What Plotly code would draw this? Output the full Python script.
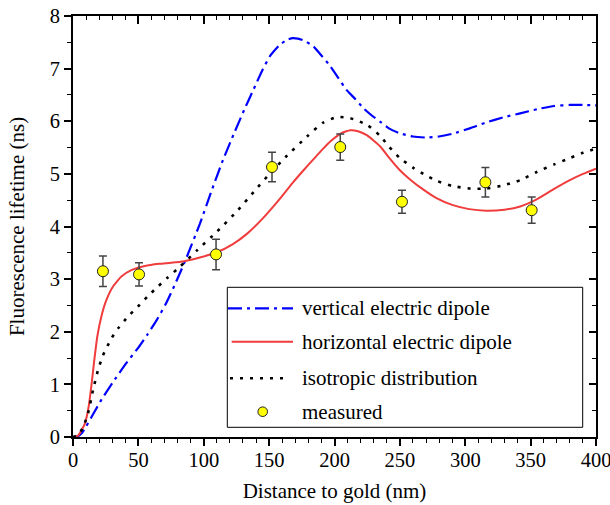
import plotly.graph_objects as go

# ---------------- data ----------------
blue_x = [0, 4, 7, 10, 16, 22, 30, 40, 50, 57, 64, 71, 78, 86, 97, 106, 114, 123, 131, 138, 145, 151,
          158, 164, 168, 172, 177, 184, 190, 197, 203, 209, 216, 222, 229, 235, 242, 250, 260, 270, 280,
          290, 304, 315, 330, 342, 355, 368, 380, 390, 400]
blue_y = [0, 0.02, 0.08, 0.20, 0.46, 0.72, 1.02, 1.38, 1.70, 1.95, 2.22, 2.53, 2.90, 3.36, 4.05, 4.68,
          5.22, 5.76, 6.22, 6.60, 6.98, 7.25, 7.45, 7.55, 7.58, 7.57, 7.53, 7.42, 7.25, 7.04, 6.82, 6.60,
          6.42, 6.25, 6.10, 5.99, 5.86, 5.77, 5.71, 5.69, 5.71, 5.76, 5.87, 5.97, 6.08, 6.15, 6.23, 6.29,
          6.31, 6.31, 6.30]

red_x = [0, 4, 9, 12, 14, 16, 18.6, 21.7, 25.5, 30.6, 37, 44.6, 55, 66, 75, 85, 97, 110, 122, 133, 145,
         158, 168, 176, 184, 191, 197, 205, 212, 218, 225, 235, 242, 250, 258, 268, 278, 290, 303,
         316, 330, 342, 355, 367, 380, 390, 400]
red_y = [0, 0.03, 0.25, 0.58, 0.96, 1.40, 1.91, 2.29, 2.60, 2.86, 3.05, 3.17, 3.25, 3.29, 3.31, 3.34, 3.41,
         3.51, 3.66, 3.86, 4.15, 4.52, 4.83, 5.06, 5.28, 5.47, 5.62, 5.77, 5.83, 5.81, 5.73, 5.52,
         5.30, 5.07, 4.89, 4.70, 4.54, 4.41, 4.33, 4.30, 4.32, 4.38, 4.52, 4.70, 4.88, 5.00, 5.10]

iso_x = [0, 4, 8, 11.5, 15.3, 19.1, 22.9, 29.3, 34.4, 42.1, 49.7, 57.4, 65, 72, 82, 95, 110, 125, 139,
         150, 163, 179, 191, 202, 212, 225, 235, 242, 250, 260, 270, 278, 290, 304, 316, 329, 342, 355,
         368, 380, 390, 400]
iso_y = [0, 0.03, 0.20, 0.45, 0.89, 1.27, 1.55, 1.87, 2.06, 2.29, 2.48, 2.68, 2.86, 3.02, 3.24, 3.55,
         3.90, 4.28, 4.68, 4.99, 5.33, 5.71, 5.97, 6.08, 6.06, 5.93, 5.72, 5.51, 5.30, 5.12, 4.97, 4.87,
         4.77, 4.72, 4.72, 4.78, 4.88, 5.04, 5.18, 5.30, 5.40, 5.48]

meas_x = [22.9, 50.5, 109.4, 152.2, 204.4, 251.6, 315.4, 350.8]
meas_y = [3.15, 3.09, 3.47, 5.13, 5.51, 4.47, 4.84, 4.31]
meas_err = [0.29, 0.22, 0.29, 0.28, 0.25, 0.22, 0.28, 0.25]

legend_labels = ["vertical electric dipole", "horizontal electric dipole",
                 "isotropic distribution", "measured"]

BLUE = "#0000ff"
RED = "#f03c3c"
FONT = "Liberation Serif"
SM = 0.45

fig = go.Figure()
fig.add_trace(go.Scatter(x=blue_x, y=blue_y, mode="lines", line=dict(color=BLUE, width=2.2,
                         dash="14px,5px,3px,5px", shape="spline", smoothing=SM), showlegend=False))
fig.add_trace(go.Scatter(x=red_x, y=red_y, mode="lines", line=dict(color=RED, width=2,
                         shape="spline", smoothing=SM), showlegend=False))
fig.add_trace(go.Scatter(x=iso_x, y=iso_y, mode="lines", line=dict(color="black", width=2.6,
                         dash="3px,7px", shape="spline", smoothing=SM), showlegend=False))
fig.add_trace(go.Scatter(x=meas_x, y=meas_y, mode="markers",
                         marker=dict(color="#ffff00", size=11, line=dict(color="#222222", width=1)),
                         error_y=dict(type="data", array=meas_err, color="#444444", thickness=1.5, width=4),
                         showlegend=False))

# ---------- hand-drawn legend (paper coords) ----------
PL, PR, PT, PB = 73, 596, 16, 437
def px2x(p): return (p - PL) / (PR - PL)
def px2y(p): return (PB - p) / (PB - PT)

fig.add_shape(type="rect", xref="paper", yref="paper", x0=px2x(227.3), x1=px2x(582.7),
              y0=px2y(427.3), y1=px2y(287.3), line=dict(color="black", width=1), fillcolor="white")
rows = [308.3, 341.7, 378.3, 411.7]
fig.add_shape(type="line", xref="paper", yref="paper", x0=px2x(228), x1=px2x(293), y0=px2y(rows[0]),
              y1=px2y(rows[0]), line=dict(color=BLUE, width=2.2, dash="14px,5px,3px,5px"))
fig.add_shape(type="line", xref="paper", yref="paper", x0=px2x(231.7), x1=px2x(293), y0=px2y(rows[1]),
              y1=px2y(rows[1]), line=dict(color=RED, width=2))
fig.add_shape(type="line", xref="paper", yref="paper", x0=px2x(230), x1=px2x(290), y0=px2y(rows[2]),
              y1=px2y(rows[2]), line=dict(color="black", width=2.6, dash="3px,7px"))
r = 4.8
fig.add_shape(type="circle", xref="paper", yref="paper", x0=px2x(262.7 - r), x1=px2x(262.7 + r),
              y0=px2y(rows[3] + r), y1=px2y(rows[3] - r), fillcolor="#ffff00",
              line=dict(color="#222222", width=1))
for lab, ry in zip(legend_labels, rows):
    fig.add_annotation(xref="paper", yref="paper", x=px2x(300), y=px2y(ry), text=lab, showarrow=False,
                       xanchor="left", yanchor="middle", font=dict(family=FONT, size=21, color="black"))

axis_common = dict(showline=True, linewidth=2, linecolor="black", showgrid=False, zeroline=False,
                   tickcolor="black", tickwidth=1.5, automargin=False)
fig.update_layout(
    width=610, height=505, margin=dict(l=73, r=14, t=16, b=68),
    paper_bgcolor="white", plot_bgcolor="white",
    font=dict(family=FONT, size=20, color="black"),
    xaxis=dict(range=[0, 400], tick0=0, dtick=50, ticks="outside", ticklen=7, ticklabeloverflow="allow",
               ticklabelstandoff=-4, tickfont=dict(family=FONT, size=20.5),
               minor=dict(dtick=10, ticks="outside", ticklen=4, tickcolor="black", tickwidth=1.2),
               title=dict(text="Distance to gold (nm)", font=dict(family=FONT, size=21), standoff=14),
               **axis_common),
    yaxis=dict(range=[0, 8], tick0=0, dtick=1, ticks="outside", ticklen=7,
               tickfont=dict(family=FONT, size=20.5),
               minor=dict(dtick=0.5, ticks="outside", ticklen=4, tickcolor="black", tickwidth=1.2),
               title=dict(text="Fluorescence lifetime (ns)", font=dict(family=FONT, size=21), standoff=19),
               **axis_common),
    xaxis2=dict(range=[0, 400], overlaying="x", side="top", tick0=0, dtick=50, ticks="inside", ticklen=8,
                showticklabels=False,
                minor=dict(dtick=10, ticks="inside", ticklen=4, tickcolor="black", tickwidth=1.2),
                **axis_common),
    yaxis2=dict(range=[0, 8], overlaying="y", side="right", tick0=0, dtick=1, ticks="inside", ticklen=7,
                showticklabels=False,
                minor=dict(dtick=0.5, ticks="inside", ticklen=4, tickcolor="black", tickwidth=1.2),
                **axis_common),
)
# invisible trace to activate the mirrored axes
fig.add_trace(go.Scatter(x=[0], y=[0], xaxis="x2", yaxis="y2", mode="markers",
                         marker=dict(opacity=0), showlegend=False, hoverinfo="skip"))

fig.write_html("out.html")
